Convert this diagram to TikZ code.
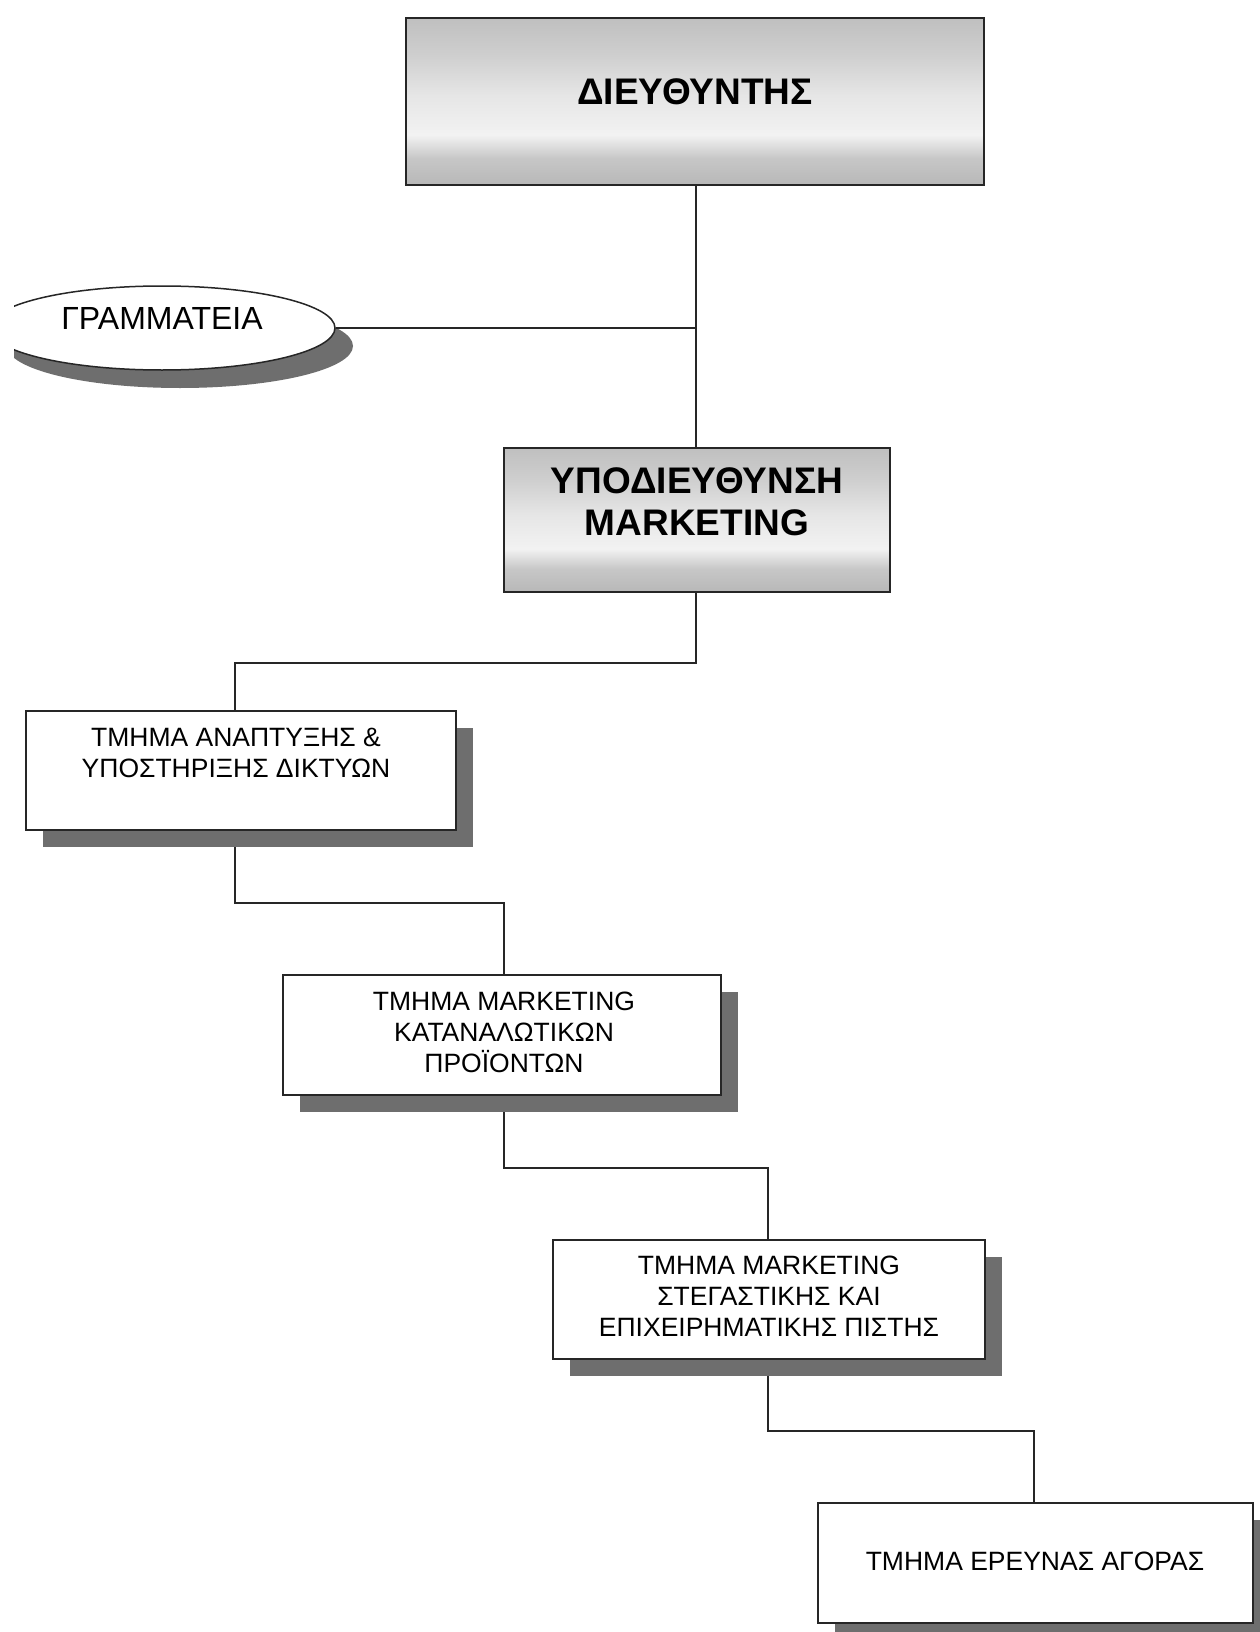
\documentclass[tikz,border=0pt]{standalone}
\usepackage{fontspec}
\setmainfont{Liberation Sans}
\usetikzlibrary{shapes.geometric,shadows}
\definecolor{sgA}{gray}{0.72}
\definecolor{sgB}{gray}{0.78}
\definecolor{sgC}{gray}{0.95}
\definecolor{sgD}{gray}{0.90}
\definecolor{sgE}{gray}{0.81}
\definecolor{sgF}{gray}{0.75}
\definecolor{shadowgray}{gray}{0.43}
\pgfdeclareverticalshading{boxshade}{100bp}{color(0bp)=(sgA); color(25bp)=(sgA); color(33bp)=(sgB); color(40bp)=(sgC); color(52bp)=(sgD); color(64bp)=(sgE); color(75bp)=(sgF); color(100bp)=(sgF)}
\tikzset{
  conn/.style={draw=black!85, line width=2pt},
  headbox/.style={rectangle, draw=black!85, line width=1.8pt, shading=boxshade, inner sep=0pt},
  deptbox/.style={rectangle, draw=black!85, line width=1.5pt, fill=white, inner sep=0pt,
    drop shadow={shadow xshift=17pt, shadow yshift=-17pt, fill=shadowgray, opacity=1}},
  headtext/.style={align=center, inner sep=0pt, font=\bfseries\fontsize{37}{42}\selectfont},
  depttext/.style={align=center, inner sep=0pt, font=\fontsize{26.5}{31}\selectfont},
}
\begin{document}
\begin{tikzpicture}[x=1pt, y=-1pt]
\useasboundingbox (0,0) rectangle (1260,1632);
\fill[white] (0,0) rectangle (1260,1632);

% bend coordinates
\coordinate (j0) at (696,328);
\coordinate (k1) at (696,663);
\coordinate (k2) at (235,663);
\coordinate (k3) at (235,903);
\coordinate (k4) at (504,903);
\coordinate (k5) at (504,1168);
\coordinate (k6) at (768,1168);
\coordinate (k7) at (768,1431);
\coordinate (k8) at (1034,1431);

% boxes
\node[headbox, minimum width=578pt, minimum height=167pt] (top) at (695,101.5) {};
\node[headtext] (toptext) at (695,92) {ΔΙΕΥΘΥΝΤΗΣ};

\node[headbox, minimum width=386pt, minimum height=144pt] (upod) at (697,520) {};
\node[headtext] (upodtext) at (697,502) {ΥΠΟΔΙΕΥΘΥΝΣΗ\\MARKETING};

\begin{scope}
\clip (14,0) rectangle (1260,1632);
\node[ellipse, draw=black!85, line width=1.5pt, fill=white, inner sep=0pt,
  minimum width=346pt, minimum height=84pt,
  drop shadow={shadow xshift=18pt, shadow yshift=-18pt, fill=shadowgray, opacity=1}] (ell) at (162,328) {};
\end{scope}
\node[inner sep=0pt, font=\fontsize{32}{36}\selectfont] (elltext) at (162,318) {ΓΡΑΜΜΑΤΕΙΑ};

% connectors (drawn below department boxes)
\draw[conn] (top.south -| j0) -- (upod.north -| j0);
\draw[conn] (ell.east) -- (j0);
\draw[conn] (upod.south -| k1) -- (k1) -- (k2) -- (k2 |- 0,711);
\draw[conn] (k3 |- 0,830) -- (k3) -- (k4) -- (k4 |- 0,975);
\draw[conn] (k5 |- 0,1095) -- (k5) -- (k6) -- (k6 |- 0,1240);
\draw[conn] (k7 |- 0,1359) -- (k7) -- (k8) -- (k8 |- 0,1503);

\node[deptbox, minimum width=430pt, minimum height=119pt] (b1) at (241,770.5) {};
\node[depttext] (b1text) at (236,753) {ΤΜΗΜΑ ΑΝΑΠΤΥΞΗΣ \&\\ΥΠΟΣΤΗΡΙΞΗΣ ΔΙΚΤΥΩΝ};

\node[deptbox, minimum width=438pt, minimum height=120pt] (b2) at (502,1035) {};
\node[depttext] (b2text) at (504,1032) {ΤΜΗΜΑ MARKETING\\ΚΑΤΑΝΑΛΩΤΙΚΩΝ\\ΠΡΟΪΟΝΤΩΝ};

\node[deptbox, minimum width=432pt, minimum height=119pt] (b3) at (769,1299.5) {};
\node[depttext] (b3text) at (769,1296) {ΤΜΗΜΑ MARKETING\\ΣΤΕΓΑΣΤΙΚΗΣ ΚΑΙ\\ΕΠΙΧΕΙΡΗΜΑΤΙΚΗΣ ΠΙΣΤΗΣ};

\node[deptbox, minimum width=435pt, minimum height=120pt] (b4) at (1035.5,1563) {};
\node[depttext] (b4text) at (1035,1561) {ΤΜΗΜΑ ΕΡΕΥΝΑΣ ΑΓΟΡΑΣ};
\end{tikzpicture}
\end{document}
